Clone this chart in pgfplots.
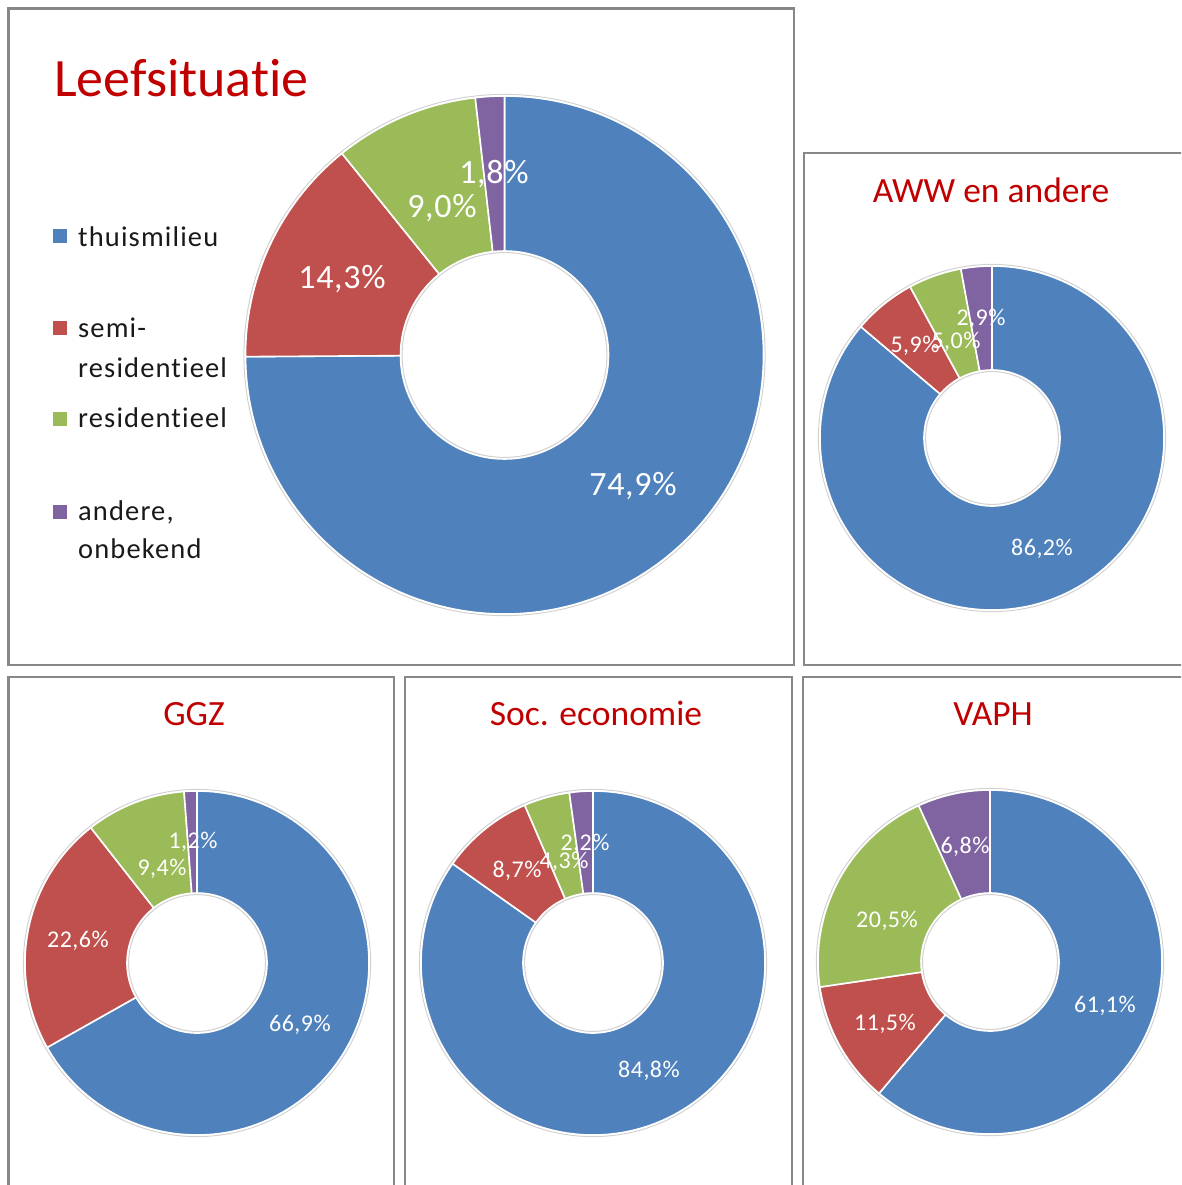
\documentclass[border=0pt]{standalone}
\usepackage{pgfplots}
\pgfplotsset{compat=1.18}
\usepackage{fontspec}
\setmainfont{Carlito}[Ligatures=NoCommon]
\newfontfamily\legfont{Carlito}[LetterSpace=4, Ligatures=NoCommon]
\newfontfamily\labfont{Carlito}[LetterSpace=2, Ligatures=NoCommon]
\definecolor{cBlue}{HTML}{4F81BD}
\definecolor{cRed}{HTML}{C0504D}
\definecolor{cGreen}{HTML}{9BBB59}
\definecolor{cPurple}{HTML}{8064A2}
\definecolor{cTitle}{HTML}{C00000}
\definecolor{cFrame}{HTML}{878787}
% slice: cx, cy, R, r, total, from, to, colour
\newcommand{\slice}[8]{%
  \fill[#8, draw=white, line width=1.6pt, line join=round]
    ([shift={({90-(#6)/(#5)*360}:#3pt)}]axis cs:#1,#2)
    arc[start angle={90-(#6)/(#5)*360}, end angle={90-(#7)/(#5)*360}, radius=#3pt]
    -- ([shift={({90-(#7)/(#5)*360}:#4pt)}]axis cs:#1,#2)
    arc[start angle={90-(#7)/(#5)*360}, end angle={90-(#6)/(#5)*360}, radius=#4pt]
    -- cycle;}
% donut: cx, cy, R, r, thuismilieu, semi-residentieel, residentieel, andere
\newcommand{\donut}[8]{%
  \draw[black!18, line width=1pt] (axis cs:#1,#2) circle[radius=#3pt+1.6pt];
  \slice{#1}{#2}{#3}{#4}{#5+#6+#7+#8}{0}{#5}{cBlue}
  \slice{#1}{#2}{#3}{#4}{#5+#6+#7+#8}{#5}{#5+#6}{cRed}
  \slice{#1}{#2}{#3}{#4}{#5+#6+#7+#8}{#5+#6}{#5+#6+#7}{cGreen}
  \slice{#1}{#2}{#3}{#4}{#5+#6+#7+#8}{#5+#6+#7}{#5+#6+#7+#8}{cPurple}
  \draw[black!18, line width=1pt] (axis cs:#1,#2) circle[radius=#4pt-1.6pt];}
\newcommand{\lab}[4]{\node[anchor=base, text=white, font=\labfont\fontsize{#4}{#4}\selectfont, inner sep=0pt] at (axis cs:#1,#2) {#3};}
\newcommand{\ttl}[3]{\node[anchor=base, text=cTitle, font=\fontsize{35.5}{36}\selectfont, inner sep=0pt] at (axis cs:#1,#2) {#3};}
\newcommand{\legsq}[3]{\fill[#3] (axis cs:53,#1) rectangle (axis cs:67,#2);}
\newcommand{\legtx}[2]{\node[anchor=base west, text=black!90, font=\legfont\fontsize{28.5}{29}\selectfont, inner sep=0pt] at (axis cs:78,#1) {#2};}
\begin{document}
\begin{tikzpicture}
\useasboundingbox (0,0) rectangle (1181pt,1185pt);
\clip (0,0) rectangle (1181pt,1185pt);
\begin{axis}[
  at={(0pt,0pt)}, anchor=south west,
  width=1181pt, height=1185pt, scale only axis,
  xmin=0, xmax=1181, ymin=0, ymax=1185, y dir=reverse,
  hide axis, clip=false]
% panel frames
\draw[cFrame, line width=2.2pt] (axis cs:8.5,8.5) rectangle (axis cs:794,665);
\draw[cFrame, line width=2.2pt] (axis cs:804,153) rectangle (axis cs:1200,665);
\draw[cFrame, line width=2.2pt] (axis cs:8.5,677) rectangle (axis cs:394,1200);
\draw[cFrame, line width=2.2pt] (axis cs:405,677) rectangle (axis cs:792,1200);
\draw[cFrame, line width=2.2pt] (axis cs:803,677) rectangle (axis cs:1200,1200);
% main chart
\node[anchor=base west, text=cTitle, font=\fontsize{54}{54}\selectfont, inner sep=0pt] at (axis cs:54,97) {Leefsituatie};
\legsq{229}{243}{cBlue}
\legtx{246}{thuismilieu}
\legsq{321}{335}{cRed}
\legtx{337}{semi-}
\legtx{377}{residentieel}
\legsq{412}{426}{cGreen}
\legtx{427}{residentieel}
\legsq{505}{519}{cPurple}
\legtx{520}{andere,}
\legtx{558}{onbekend}
\donut{504.5}{355}{259}{104}{74.9}{14.3}{9.0}{1.8}
\lab{633}{495}{74,9\%}{34}
\lab{342}{288}{14,3\%}{34}
\lab{442}{217}{9,0\%}{34}
\lab{494}{183}{1,8\%}{34}
% AWW en andere
\ttl{991}{202}{AWW en andere}
\donut{992}{438}{172}{68}{86.2}{5.9}{5.0}{2.9}
\lab{1042}{555}{86,2\%}{24}
\lab{915}{352}{5,9\%}{24}
\lab{956}{348}{5,0\%}{24}
\lab{981}{325}{2,9\%}{24}
% GGZ
\ttl{194}{725}{GGZ}
\donut{197}{963}{172}{70}{66.9}{22.6}{9.4}{1.2}
\lab{300}{1031}{66,9\%}{24}
\lab{78}{947}{22,6\%}{24}
\lab{162}{875}{9,4\%}{24}
\lab{193}{848}{1,2\%}{24}
% Soc. economie
\ttl{596}{725}{Soc. economie}
\donut{593}{963}{172}{70}{84.8}{8.7}{4.3}{2.2}
\lab{649}{1077}{84,8\%}{24}
\lab{517}{877}{8,7\%}{24}
\lab{564}{868}{4,3\%}{24}
\lab{585}{850}{2,2\%}{24}
% VAPH
\ttl{993}{725}{VAPH}
\donut{990}{962}{172}{69}{61.1}{11.5}{20.5}{6.8}
\lab{1105}{1012}{61,1\%}{24}
\lab{885}{1030}{11,5\%}{24}
\lab{887}{927}{20,5\%}{24}
\lab{965}{853}{6,8\%}{24}
\end{axis}
\end{tikzpicture}
\end{document}
